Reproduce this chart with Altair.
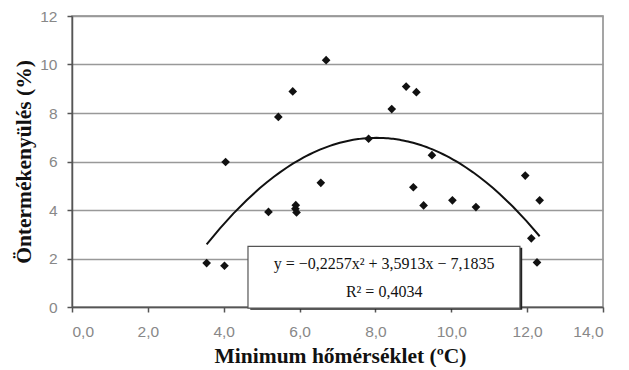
import altair as alt
import pandas as pd

# Data
temp = [3.55, 4.02, 4.05, 5.18, 5.89, 5.90, 5.92, 5.44, 5.82, 6.56, 6.70, 7.82,
        8.43, 8.81, 9.08, 9.49, 9.00, 9.27, 10.03, 10.65, 11.95, 12.33, 12.11, 12.26]
selfing = [1.81, 1.70, 5.98, 3.92, 4.05, 4.20, 3.90, 7.84, 8.89, 5.12, 10.18, 6.94,
           8.16, 9.09, 8.86, 6.26, 4.94, 4.19, 4.40, 4.12, 5.42, 4.40, 2.83, 1.84]

eq_lines = ["y = −0,2257x² + 3,5913x − 7,1835", "R² = 0,4034"]
eq_y = [1.76, 0.62]
eq_x = [8.23, 8.23]
box = {"x": [4.64], "x2": [11.81], "y": [2.50], "y2": [-0.05]}
shadow = {"x": [4.70], "x2": [11.87], "y": [2.44], "y2": [-0.11]}

df = pd.DataFrame({"t": temp, "s": selfing})
df_eq = pd.DataFrame({"x": eq_x, "y": eq_y, "label": eq_lines})
df_box = pd.DataFrame(box)
df_shadow = pd.DataFrame(shadow)

label_expr = "replace(format(datum.value, '.1f'), '.', ',')"

xscale = alt.Scale(domain=[0, 14], nice=False, zero=False)
yscale = alt.Scale(domain=[0, 12], nice=False)

xaxis = alt.Axis(values=[0, 2, 4, 6, 8, 10, 12, 14], labelExpr=label_expr,
                 title="Minimum hőmérséklet (ºC)", grid=False,
                 tickSize=5, labelPadding=12, titlePadding=6, titleX=268)
yaxis = alt.Axis(values=[0, 2, 4, 6, 8, 10, 12], title="Öntermékenyülés (%)",
                 grid=True, tickSize=5, labelPadding=10, titlePadding=4)

points = alt.Chart(df).mark_point(shape="diamond", filled=True, color="#111",
                                  size=75, opacity=1).encode(
    x=alt.X("t:Q", scale=xscale, axis=xaxis),
    y=alt.Y("s:Q", scale=yscale, axis=yaxis),
)

curve = alt.Chart(df).transform_regression(
    "t", "s", method="poly", order=2
).mark_line(color="#111", strokeWidth=2).encode(
    x=alt.X("t:Q", scale=xscale),
    y=alt.Y("s:Q", scale=yscale),
)

shadow_rect = alt.Chart(df_shadow).mark_rect(color="#222").encode(
    x=alt.X("x:Q", scale=xscale), x2="x2:Q",
    y=alt.Y("y:Q", scale=yscale), y2="y2:Q",
)

box_rect = alt.Chart(df_box).mark_rect(fill="white", stroke="#555",
                                       strokeWidth=1.2).encode(
    x=alt.X("x:Q", scale=xscale), x2="x2:Q",
    y=alt.Y("y:Q", scale=yscale), y2="y2:Q",
)

eq_text = alt.Chart(df_eq).mark_text(font="Liberation Serif", fontSize=16,
                                     color="#111", align="center",
                                     baseline="middle").encode(
    x=alt.X("x:Q", scale=xscale),
    y=alt.Y("y:Q", scale=yscale),
    text="label:N",
)

chart = alt.layer(points, curve, shadow_rect, box_rect, eq_text).properties(
    width=531, height=291,
    autosize=alt.AutoSizeParams(type="none"),
    padding={"left": 64, "top": 8, "right": 10, "bottom": 60},
).configure_view(
    stroke="#888", strokeWidth=1.5
).configure_axis(
    labelFont="Liberation Sans", labelFontSize=15.5, labelColor="#888",
    titleFont="Liberation Serif", titleFontSize=21.5, titleFontWeight="bold",
    titleColor="#111", domainColor="#555", domainWidth=1.5,
    tickColor="#555", tickWidth=1.5, gridColor="#999", gridWidth=1.5,
)

chart.save("out.html", embed_options={"renderer": "svg", "actions": False})
